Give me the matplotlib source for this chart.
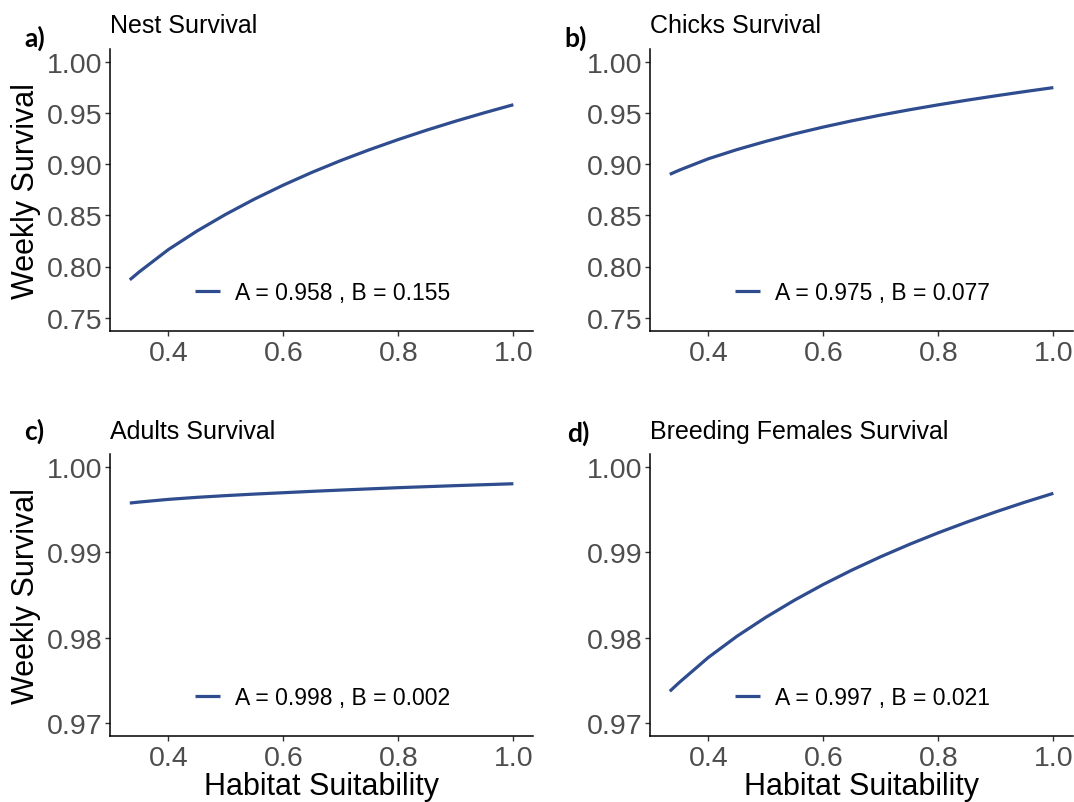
import matplotlib
matplotlib.use("Agg")
import matplotlib.pyplot as plt

# ---- data ----
habitat = [0.333, 0.35, 0.4, 0.45, 0.5, 0.55, 0.6, 0.65, 0.7, 0.75, 0.8, 0.85, 0.9, 0.95, 1.0]
nest_surv = [0.787, 0.795, 0.8165, 0.8347, 0.851, 0.8659, 0.8795, 0.8920, 0.9035, 0.9141,
             0.924, 0.9333, 0.942, 0.9502, 0.958]
chick_surv = [0.890, 0.8942, 0.9052, 0.9142, 0.9222, 0.92955, 0.9362, 0.9423, 0.9479, 0.95308,
              0.9579, 0.96243, 0.9667, 0.9708, 0.9747]
adult_surv = [0.99578, 0.99590, 0.99621, 0.99645, 0.99665, 0.99683, 0.99699, 0.99715,
              0.99730, 0.99744, 0.99758, 0.99770, 0.99782, 0.99793, 0.99804]
female_surv = [0.97374, 0.97480, 0.97770, 0.98019, 0.98240, 0.98441, 0.98625, 0.98794,
               0.98950, 0.99095, 0.99230, 0.99356, 0.99475, 0.99587, 0.99692]

titles = ["Nest Survival", "Chicks Survival", "Adults Survival", "Breeding Females Survival"]
panel_tags = ["a)", "b)", "c)", "d)"]
legend_labels = ["A = 0.958 , B = 0.155", "A = 0.975 , B = 0.077",
                 "A = 0.998 , B = 0.002", "A = 0.997 , B = 0.021"]
xticks = [0.4, 0.6, 0.8, 1.0]
yticks_top = [0.75, 0.80, 0.85, 0.90, 0.95, 1.00]
yticks_bottom = [0.97, 0.98, 0.99, 1.00]

series = [nest_surv, chick_surv, adult_surv, female_surv]

plt.rcParams['font.family'] = ['Liberation Sans', 'DejaVu Sans']

W, H = 1074, 803
fig = plt.figure(figsize=(W / 100, H / 100), dpi=100)

# axes boxes in pixels: left, top, right, bottom
boxes = [(109.5, 49.9, 532.5, 331.5),
         (649.5, 49.9, 1072.5, 331.5),
         (109.5, 455.2, 532.5, 737.0),
         (649.5, 455.2, 1072.5, 737.0)]

line_color = '#2F4C8F'
tick_gray = '#4D4D4D'

for i, (l, t, r, b) in enumerate(boxes):
    ax = fig.add_axes([l / W, 1 - b / H, (r - l) / W, (b - t) / H])
    ax.plot(habitat, series[i], color=line_color, lw=2.3, solid_capstyle='butt',
            solid_joinstyle='round', label=legend_labels[i])
    ax.set_xlim(0.2977, 1.0333)
    ax.set_xticks(xticks)
    ax.set_xticklabels([f"{v:.1f}" for v in xticks])
    if i < 2:
        ax.set_ylim(0.7375, 1.0125)
        ax.set_yticks(yticks_top)
        ax.set_yticklabels([f"{v:.2f}" for v in yticks_top])
    else:
        ax.set_ylim(0.9685, 1.0015)
        ax.set_yticks(yticks_bottom)
        ax.set_yticklabels([f"{v:.2f}" for v in yticks_bottom])
    for s in ['top', 'right']:
        ax.spines[s].set_visible(False)
    for s in ['left', 'bottom']:
        ax.spines[s].set_linewidth(1.1)
        ax.spines[s].set_color('black')
    ax.tick_params(axis='both', labelsize=20.5, labelcolor=tick_gray, color='#333333',
                   length=3.5, width=1.0)
    ax.tick_params(axis='y', pad=1.5)
    ax.tick_params(axis='x', pad=3)
    ax.set_title(titles[i], loc='left', fontsize=18, pad=12, color='black')
    if i % 2 == 0:
        fig.text(26 / W, 1 - (t + b) / 2 / H, "Weekly Survival", fontsize=22,
                 rotation=90, ha='center', va='center')
    if i >= 2:
        ax.set_xlabel("Habitat Suitability", fontsize=22, labelpad=0)
    ax.legend(loc='center', bbox_to_anchor=(0.503, 0.136), frameon=False,
              fontsize=16.5, handlelength=1.1, handletextpad=0.65)

tag_pos = [(24, 38), (564, 38), (24, 431), (567, 433)]
for (x, y), tag in zip(tag_pos, panel_tags):
    fig.text(x / W, 1 - y / H, tag, fontsize=19, fontweight='bold',
             family=['Lato', 'DejaVu Sans'], ha='left', va='center')

fig.savefig("out.png", dpi=100)
